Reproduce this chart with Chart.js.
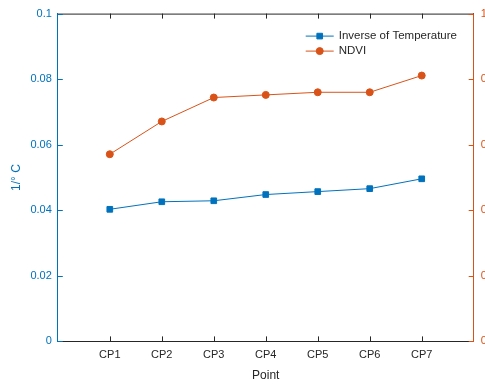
<!DOCTYPE html>
<html>
<head>
<meta charset="utf-8">
<script src="https://cdn.jsdelivr.net/npm/chart.js@4.4.1/dist/chart.umd.min.js"></script>
<style>
body{margin:0;overflow:hidden;background:#fff}
canvas{display:block}
</style>
</head>
<body>
<canvas id="chart" width="503" height="384"></canvas>
<script>
const points = ['CP1', 'CP2', 'CP3', 'CP4', 'CP5', 'CP6', 'CP7'];
const inverseTemp = [0.0403, 0.0426, 0.0429, 0.0448, 0.0457, 0.0466, 0.0496];
const ndvi = [0.571, 0.671, 0.744, 0.752, 0.760, 0.760, 0.811];
const leftTicks = [0, 0.02, 0.04, 0.06, 0.08, 0.1];
const rightTicks = [0, 0.2, 0.4, 0.6, 0.8, 1];

const BLUE = '#0072BD';
const ORANGE = '#D95319';
const DARK = '#262626';
const FONT = '"Liberation Sans", Arial, Helvetica, sans-serif';

// inward tick marks and the top edge of the box, like matlab
const boxTicks = {
    id: 'boxTicks',
    beforeDatasetsDraw(chart) {
        const ctx = chart.ctx;
        const a = chart.chartArea;
        const s = chart.scales;
        const len = 5;
        ctx.save();
        ctx.lineWidth = 1;

        ctx.strokeStyle = DARK;
        ctx.beginPath();
        ctx.moveTo(a.left, a.top + 0.5);
        ctx.lineTo(a.right, a.top + 0.5);
        s.x.ticks.forEach(t => {
            const px = Math.round(s.x.getPixelForValue(t.value)) + 0.5;
            ctx.moveTo(px, a.bottom);
            ctx.lineTo(px, a.bottom - len);
            ctx.moveTo(px, a.top);
            ctx.lineTo(px, a.top + len);
        });
        ctx.stroke();

        ctx.strokeStyle = BLUE;
        ctx.beginPath();
        s.y.ticks.forEach(t => {
            const py = Math.round(s.y.getPixelForValue(t.value)) + 0.5;
            ctx.moveTo(a.left, py);
            ctx.lineTo(a.left + len, py);
        });
        ctx.stroke();

        ctx.strokeStyle = ORANGE;
        ctx.beginPath();
        s.y1.ticks.forEach(t => {
            const py = Math.round(s.y1.getPixelForValue(t.value)) + 0.5;
            ctx.moveTo(a.right, py);
            ctx.lineTo(a.right - len, py);
        });
        ctx.stroke();
        ctx.restore();
    }
};

// legend inside the plot, line with marker through it
const insideLegend = {
    id: 'insideLegend',
    afterDraw(chart) {
        const ctx = chart.ctx;
        const a = chart.chartArea;
        const x0 = a.right - 168;
        ctx.save();
        ctx.font = '11.5px ' + FONT;
        ctx.textBaseline = 'middle';
        chart.data.datasets.forEach((ds, i) => {
            const y = a.top + 22 + i * 15;
            ctx.strokeStyle = ds.borderColor;
            ctx.lineWidth = 1;
            ctx.beginPath();
            ctx.moveTo(x0, y + 0.5);
            ctx.lineTo(x0 + 28, y + 0.5);
            ctx.stroke();
            ctx.fillStyle = ds.backgroundColor;
            ctx.strokeStyle = ds.backgroundColor;
            Chart.helpers.drawPoint(ctx, {pointStyle: ds.pointStyle, radius: ds.pointRadius, borderWidth: 1}, x0 + 14, y + 0.5);
            ctx.fillStyle = DARK;
            ctx.fillText(ds.label, x0 + 33, y);
        });
        ctx.restore();
    }
};

new Chart(document.getElementById('chart'), {
    type: 'line',
    data: {
        datasets: [{
            label: 'Inverse of Temperature',
            data: points.map((p, i) => ({x: i + 1, y: inverseTemp[i]})),
            yAxisID: 'y',
            borderColor: BLUE,
            backgroundColor: BLUE,
            borderWidth: 1,
            pointStyle: 'rect',
            pointRadius: 4,
            pointBorderWidth: 1
        }, {
            label: 'NDVI',
            data: points.map((p, i) => ({x: i + 1, y: ndvi[i]})),
            yAxisID: 'y1',
            borderColor: ORANGE,
            backgroundColor: ORANGE,
            borderWidth: 1,
            pointStyle: 'circle',
            pointRadius: 3.5,
            pointBorderWidth: 1
        }]
    },
    options: {
        responsive: false,
        animation: false,
        layout: {
            padding: {top: 10, right: 0, left: 9, bottom: 0}
        },
        plugins: {
            legend: {display: false},
            tooltip: {enabled: false}
        },
        scales: {
            x: {
                type: 'linear',
                min: 0,
                max: 8,
                afterBuildTicks: scale => {
                    scale.ticks = points.map((p, i) => ({value: i + 1}));
                },
                ticks: {
                    callback: v => points[v - 1],
                    color: DARK,
                    font: {family: FONT, size: 11},
                    padding: 7,
                    maxRotation: 0
                },
                grid: {display: false, drawTicks: false},
                border: {display: true, color: DARK, width: 1},
                title: {
                    display: true,
                    text: 'Point',
                    color: DARK,
                    font: {family: FONT, size: 12},
                    padding: {top: 0, bottom: 1}
                }
            },
            y: {
                position: 'left',
                min: 0,
                max: 0.1,
                afterBuildTicks: scale => {
                    scale.ticks = leftTicks.map(v => ({value: v}));
                },
                ticks: {
                    callback: v => String(v),
                    color: BLUE,
                    font: {family: FONT, size: 11},
                    padding: 6
                },
                grid: {display: false, drawTicks: false},
                border: {display: true, color: BLUE, width: 1},
                title: {
                    display: true,
                    text: '1/° C',
                    color: BLUE,
                    font: {family: FONT, size: 12},
                    padding: {top: 0, bottom: 1}
                }
            },
            y1: {
                position: 'right',
                min: 0,
                max: 1,
                afterBuildTicks: scale => {
                    scale.ticks = rightTicks.map(v => ({value: v}));
                },
                ticks: {
                    callback: v => String(v),
                    color: ORANGE,
                    font: {family: FONT, size: 11},
                    padding: 7
                },
                grid: {display: false, drawTicks: false},
                border: {display: true, color: ORANGE, width: 1}
            }
        }
    },
    plugins: [boxTicks, insideLegend]
});
</script>
</body>
</html>
